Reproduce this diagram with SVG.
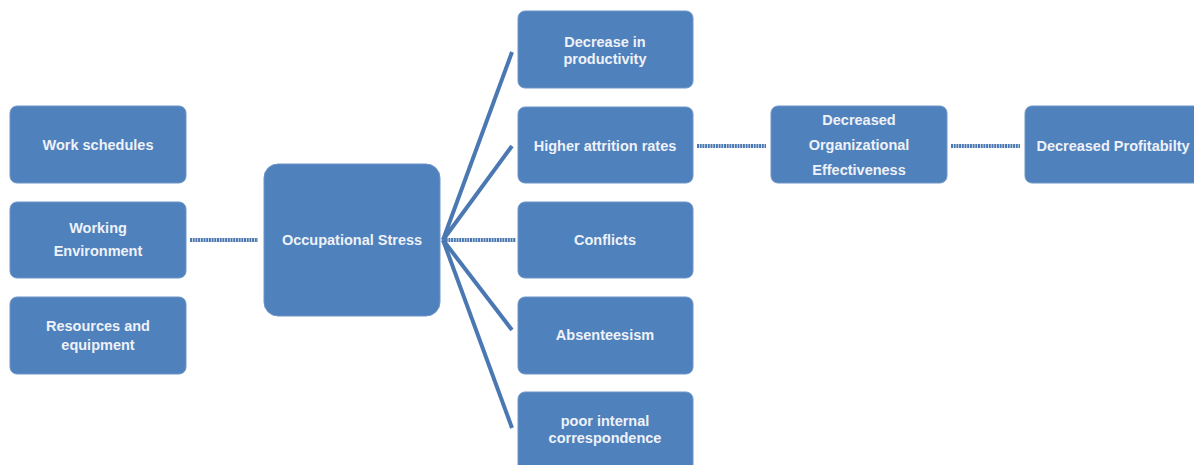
<svg xmlns="http://www.w3.org/2000/svg" width="1194" height="465" viewBox="0 0 1194 465">
<style>
.box{fill:#4f81bd;stroke:#6f95c6;stroke-width:1}
.t{font-family:"Liberation Sans",Arial,sans-serif;font-weight:bold;font-size:14.5px;fill:#eef2f8;text-anchor:middle}
.c{stroke:#4a78b2;stroke-width:4;fill:none}
.d{stroke:#4a78b2;stroke-width:4;fill:none;stroke-dasharray:2 0.7}
</style>
<rect width="1194" height="465" fill="#ffffff"/>
<g id="connectors">
<line class="d" x1="190" y1="240" x2="258" y2="240"/>
<line class="d" x1="443" y1="240" x2="516" y2="240"/>
<line class="c" x1="443" y1="240" x2="512" y2="52"/>
<line class="c" x1="443" y1="240" x2="512" y2="146"/>
<line class="c" x1="443" y1="240" x2="512" y2="330"/>
<line class="c" x1="443" y1="240" x2="512" y2="428"/>
<line class="d" x1="697" y1="146" x2="766" y2="146"/>
<line class="d" x1="951" y1="146" x2="1020" y2="146"/>
</g>
<g id="work-schedules"><rect class="box" x="10" y="106" width="176" height="77" rx="7"/><text class="t" x="98" y="150">Work schedules</text></g>
<g id="working-environment"><rect class="box" x="10" y="202" width="176" height="76" rx="7"/><text class="t" x="98" y="233">Working</text><text class="t" x="98" y="256">Environment</text></g>
<g id="resources"><rect class="box" x="10" y="297" width="176" height="77" rx="7"/><text class="t" x="98" y="331">Resources and</text><text class="t" x="98" y="350">equipment</text></g>
<g id="occupational-stress"><rect class="box" x="264" y="164" width="176" height="152" rx="14"/><text class="t" x="352" y="245">Occupational Stress</text></g>
<g id="productivity"><rect class="box" x="518" y="11" width="175" height="77" rx="7"/><text class="t" x="605" y="47">Decrease in</text><text class="t" x="605" y="64">productivity</text></g>
<g id="attrition"><rect class="box" x="518" y="107" width="175" height="76" rx="7"/><text class="t" x="605" y="151">Higher attrition rates</text></g>
<g id="conflicts"><rect class="box" x="518" y="202" width="175" height="76" rx="7"/><text class="t" x="605" y="245">Conflicts</text></g>
<g id="absenteeism"><rect class="box" x="518" y="297" width="175" height="77" rx="7"/><text class="t" x="605" y="340">Absenteesism</text></g>
<g id="correspondence"><rect class="box" x="518" y="392" width="175" height="80" rx="7"/><text class="t" x="605" y="426">poor internal</text><text class="t" x="605" y="443">correspondence</text></g>
<g id="org-effectiveness"><rect class="box" x="771" y="106" width="176" height="77" rx="7"/><text class="t" x="859" y="125">Decreased</text><text class="t" x="859" y="150">Organizational</text><text class="t" x="859" y="175">Effectiveness</text></g>
<g id="profitability"><rect class="box" x="1025" y="106" width="180" height="77" rx="7"/><text class="t" x="1113" y="151">Decreased Profitabilty</text></g>
</svg>
